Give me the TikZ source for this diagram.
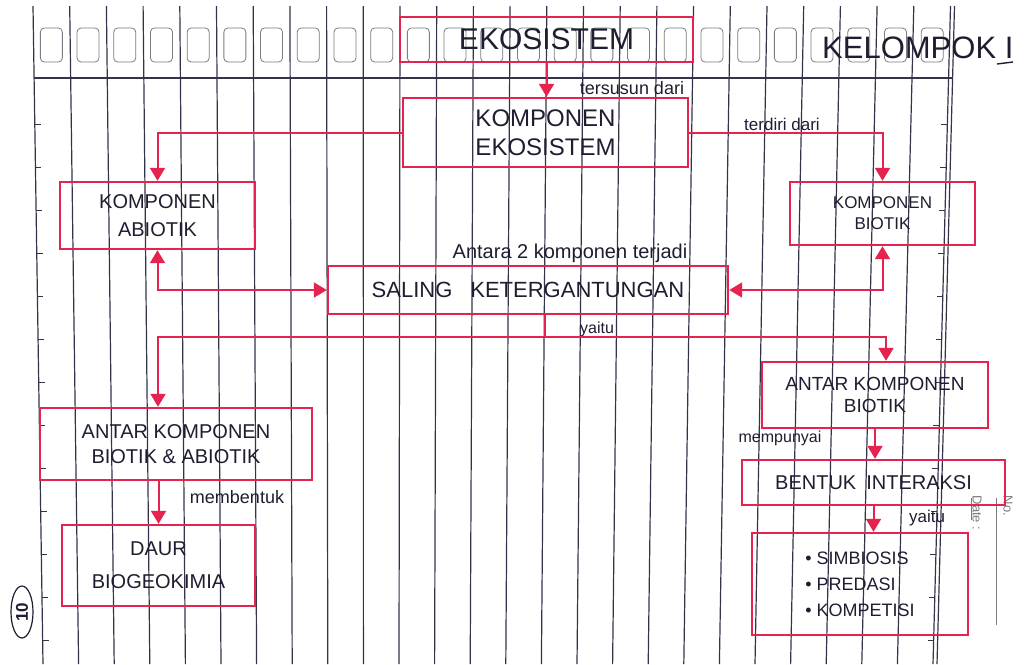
\documentclass[tikz,border=0pt]{standalone}
\usepackage{fontspec}
\setmainfont{Liberation Sans}
\usetikzlibrary{arrows.meta,calc}
\definecolor{ink}{HTML}{1E1E30}
\definecolor{pen}{HTML}{E4234F}
\definecolor{rulec}{HTML}{33334A}
\definecolor{boxgrey}{HTML}{7C7C84}
\newcommand\fsz[2]{\fontsize{#1}{#2}\selectfont}
\begin{document}
\begin{tikzpicture}[x=1pt,y=-1pt,
  box/.style={draw=pen, line width=2.4pt, text=ink, align=center, inner sep=0pt},
  lbl/.style={text=ink, inner sep=0pt},
  arr/.style={pen, line width=2pt, -{Triangle[length=13pt,width=15pt]}},
  darr/.style={pen, line width=2pt, {Triangle[length=13pt,width=15pt]}-{Triangle[length=13pt,width=15pt]}},
  link/.style={pen, line width=2pt},
  ruling/.style={rulec, line width=1.2pt},
  cell/.style={boxgrey, line width=0.8pt, rounded corners=4pt},
  tick/.style={rulec, line width=0.9pt},
  printed/.style={text=boxgrey, inner sep=0pt, font=\fsz{13}{15}}]
\useasboundingbox (0,0) rectangle (1027,664);
\fill[white] (0,0) rectangle (1027,664);

% notebook ruling
\foreach \i in {0,...,25} {
  \draw[ruling] ({33+36.7*\i},6) -- ({43+35.6*\i},664);
}
\draw[ruling] ({33+36.7*25+4},6) -- ({43+35.6*25+4},664);
\draw[ruling] (34,78) -- (952,78);
\foreach \i in {0,...,24} {
  \draw[cell] ({33+36.7*\i+18.35-11},28) rectangle ({33+36.7*\i+18.35+11},62);
}
\foreach \y in {124,167,...,640} {
  \draw[tick] ({33+10*(\y-6)/658},\y) -- ({39+10*(\y-6)/658},\y);
  \draw[tick] ({950.5-17.5*(\y-6)/658},\y) -- ({944.5-17.5*(\y-6)/658},\y);
}
% printed margin marks
\node[printed, rotate=-90] (dt) at (977,513) {Date :};
\node[printed, rotate=-90] (no) at (1008,506) {No.};
\draw[boxgrey, line width=0.8pt] (971,498) -- (971,520);
\draw[boxgrey, line width=0.8pt] (996,498) -- (996,625);
\draw[ink, line width=1.2pt] (22,612) ellipse (11 and 26);
\node[lbl, rotate=90, font=\bfseries\fsz{17}{19}] (pg) at (22,612) {10};

% title
\node[lbl, font=\fsz{31}{35}, anchor=base west] (kel) at (822,58) {KELOMPOK I};
\draw[ink, line width=1.4pt] (997,64) -- (1013,62);

% boxes
\node[box, minimum width=293pt, minimum height=45pt, font=\fsz{30}{34}] (eko) at (546.5,39.5) {EKOSISTEM};
\node[box, minimum width=285pt, minimum height=69pt, font=\fsz{24}{29}] (keco) at (545.5,132.5) {KOMPONEN\\EKOSISTEM};
\node[box, minimum width=195pt, minimum height=67pt, font=\fsz{20}{28}] (abio) at (157.5,215.5) {KOMPONEN\\ABIOTIK};
\node[box, minimum width=185pt, minimum height=63pt, font=\fsz{17}{21}] (bio) at (882.5,213.5) {KOMPONEN\\BIOTIK};
\node[box, minimum width=400pt, minimum height=48pt, font=\fsz{22}{26}] (sal) at (528,290) {SALING\hspace{18pt}KETERGANTUNGAN};
\node[box, minimum width=272pt, minimum height=72pt, font=\fsz{20}{25}] (akba) at (176,444) {ANTAR KOMPONEN\\BIOTIK \& ABIOTIK};
\node[box, minimum width=193pt, minimum height=81pt, font=\fsz{20}{33}] (daur) at (158.5,565.5) {DAUR\\BIOGEOKIMIA};
\node[box, minimum width=226pt, minimum height=66pt, font=\fsz{19}{22}] (akb) at (875,395) {ANTAR KOMPONEN\\BIOTIK};
\node[box, minimum width=263pt, minimum height=45pt, font=\fsz{20}{24}] (bnt) at (873.5,482.5) {BENTUK\hspace{10pt}INTERAKSI};
\node[box, minimum width=216pt, minimum height=102pt, font=\fsz{18}{26}, align=left] (lst) at (860,584) {\textbullet\ SIMBIOSIS\\\textbullet\ PREDASI\\\textbullet\ KOMPETISI};

% labels
\node[lbl, font=\fsz{18}{20}] (l1) at (632,88) {tersusun dari};
\node[lbl, font=\fsz{17}{19}] (l2) at (782,124) {terdiri dari};
\node[lbl, font=\fsz{20}{22}] (l3) at (570,253) {Antara 2 komponen terjadi};
\node[lbl, font=\fsz{16}{18}] (l4) at (597,329) {yaitu};
\node[lbl, font=\fsz{18}{20}] (l5) at (237,497) {membentuk};
\node[lbl, font=\fsz{16}{18}] (l6) at (780,438) {mempunyai};
\node[lbl, font=\fsz{17}{19}] (l7) at (927,518) {yaitu};

% connectors
\draw[arr] (eko.south) -- (eko.south |- keco.north);
\draw[arr] (keco.west) -| (abio.north);
\draw[arr] (keco.east) -| (bio.north);
\draw[darr] (abio.south) |- (sal.west);
\draw[darr] (bio.south) |- (sal.east);
\coordinate (j) at (545,337);
\coordinate (jl) at (158,337);
\coordinate (jr) at (886,337);
\draw[link] (sal.south -| j) -- (j);
\draw[arr] (j) -- (jl) -- (jl |- akba.north);
\draw[arr] (j) -- (jr) -- (jr |- akb.north);
\draw[arr] (daur.north |- akba.south) -- (daur.north);
\draw[arr] (akb.south) -- (akb.south |- bnt.north);
\draw[arr] (bnt.south) -- (bnt.south |- lst.north);
\end{tikzpicture}
\end{document}
